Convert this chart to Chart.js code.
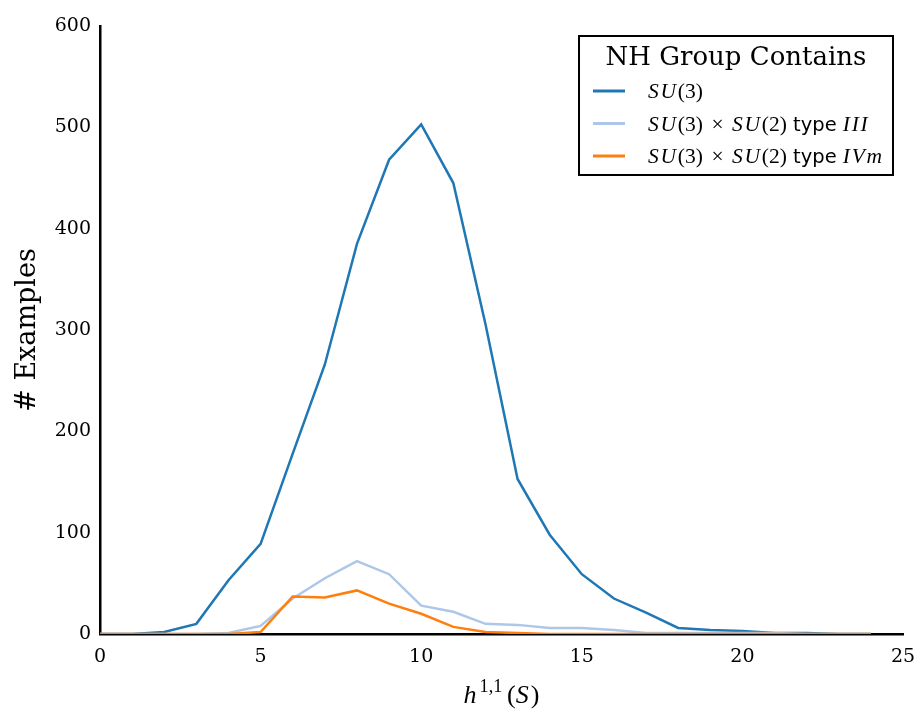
<!DOCTYPE html>
<html>
<head>
<meta charset="utf-8">
<script src="https://cdn.jsdelivr.net/npm/chart.js@4"></script>
<style>
  html, body { margin: 0; padding: 0; background: #fff; }
  canvas { display: block; }
</style>
</head>
<body>
<canvas id="chart" width="921" height="709"></canvas>
<script>
// values
const hValues = [0, 1, 2, 3, 4, 5, 6, 7, 8, 9, 10, 11, 12, 13, 14, 15, 16, 17, 18, 19, 20, 21, 22, 23, 24];
const su3 = [0, 0, 2, 10, 53, 89, 178, 266, 385, 468, 503, 445, 306, 153, 98, 59, 35, 21, 6, 4, 3, 1, 1, 0, 0];
const typeIII = [0, 0, 0, 0, 1, 8, 35, 55, 72, 59, 28, 22, 10, 9, 6, 6, 4, 1, 1, 1, 1, 1, 0, 0, 0];
const typeIVm = [0, 0, 0, 0, 0, 2, 37, 36, 43, 30, 20, 7, 2, 1, 0, 0, 0, 0, 0, 0, 0, 0, 0, 0, 0];
const seriesLabels = ['$SU(3)$', '$SU(3) × SU(2)$ type $III$', '$SU(3) × SU(2)$ type $IVm$'];
const seriesColors = ['#1f77b4', '#aec7e8', '#ff7f0e'];
const legendTitle = 'NH Group Contains';
const xTitle = '$h^{1,1}(S)$';
const yTitle = '# Examples';

const points = ys => hValues.map((x, i) => ({ x, y: ys[i] }));

// a tiny subset of mathtext: letters italic, digits/signs upright, ^{..} superscript
const drawRich = (ctx, str, x, y, size, sansSize = size) => {
    const serif = '"Liberation Serif"';
    str.split('$').forEach((part, i) => {
        if (i % 2 === 0) {
            if (!part) return;
            ctx.font = `${sansSize}px "DejaVu Sans"`;
            ctx.fillText(part, x, y);
            x += ctx.measureText(part).width;
            return;
        }
        for (let k = 0; k < part.length; k++) {
            const ch = part[k];
            if (ch === ' ') { x += size * 0.4; continue; }
            if (ch === '^') {
                const end = part.indexOf('}', k);
                const sup = part.slice(k + 2, end);
                ctx.font = `${size * 0.7}px ${serif}`;
                ctx.fillText(sup, x + 1, y - size * 0.42);
                x += ctx.measureText(sup).width + size * 0.22;
                k = end;
                continue;
            }
            const italic = /[A-Za-z]/.test(ch);
            ctx.font = (italic ? 'italic ' : '') + `${size}px ${serif}`;
            ctx.fillText(ch, x, y);
            x += ctx.measureText(ch).width + (italic ? size * 0.08 : 0);
        }
    });
    return x;
};

const richWidth = (ctx, str, size) => {
    ctx.save();
    ctx.globalAlpha = 0;
    const w = drawRich(ctx, str, 0, 0, size);
    ctx.restore();
    return w;
};

const extras = {
    id: 'extras',
    afterDraw(chart) {
        const { ctx, chartArea: area } = chart;
        ctx.save();
        ctx.fillStyle = '#000';
        ctx.textAlign = 'left';
        ctx.textBaseline = 'alphabetic';

        // x axis title
        const xs = 26;
        const xw = richWidth(ctx, xTitle, xs);
        drawRich(ctx, xTitle, (area.left + area.right) / 2 - xw / 2, 703, xs);

        // y axis title
        ctx.save();
        ctx.translate(35, (area.top + area.bottom) / 2);
        ctx.rotate(-Math.PI / 2);
        ctx.textAlign = 'center';
        ctx.font = '27px "DejaVu Serif"';
        ctx.fillText(yTitle, 0, 0);
        ctx.restore();

        // legend box
        const bx = area.right - 324, by = area.top + 10, bw = 314, bh = 139;
        ctx.fillStyle = '#fff';
        ctx.fillRect(bx, by, bw, bh);
        ctx.strokeStyle = '#000';
        ctx.lineWidth = 2;
        ctx.strokeRect(bx, by, bw, bh);
        ctx.fillStyle = '#000';
        ctx.textAlign = 'center';
        ctx.font = '26px "DejaVu Serif"';
        ctx.fillText(legendTitle, bx + bw / 2, by + 29);
        ctx.textAlign = 'left';
        seriesLabels.forEach((label, i) => {
            const cy = by + 55 + i * 32.5;
            ctx.strokeStyle = seriesColors[i];
            ctx.lineWidth = 3;
            ctx.beginPath();
            ctx.moveTo(bx + 14, cy);
            ctx.lineTo(bx + 46, cy);
            ctx.stroke();
            drawRich(ctx, label, bx + 69, cy + 7, 21.5, 19.5);
        });
        ctx.restore();
    }
};

const tickFont = { family: 'DejaVu Serif', size: 19 };

new Chart(document.getElementById('chart'), {
    type: 'line',
    data: {
        datasets: [
            { data: points(su3), borderColor: seriesColors[0], order: 3 },
            { data: points(typeIII), borderColor: seriesColors[1], order: 2 },
            { data: points(typeIVm), borderColor: seriesColors[2], order: 1 }
        ].map(d => ({ ...d, borderWidth: 2.5, pointRadius: 0, tension: 0, fill: false }))
    },
    options: {
        responsive: false, animation: false, devicePixelRatio: 1,
        layout: { padding: { top: 26, right: 18, left: 0, bottom: 0 } },
        plugins: { legend: { display: false }, tooltip: { enabled: false } },
        scales: {
            x: {
                type: 'linear', min: 0, max: 25, z: 1,
                ticks: { stepSize: 5, color: '#000', font: tickFont, padding: 12, maxRotation: 0 },
                grid: { display: false, drawTicks: false },
                border: { color: '#000', width: 2.5 },
                afterFit: s => { s.height = 75; s.paddingLeft = 0; s.paddingRight = 0; }
            },
            y: {
                min: 0, max: 600, z: 1,
                ticks: { stepSize: 100, color: '#000', font: tickFont, padding: 9 },
                grid: { display: false, drawTicks: false },
                border: { color: '#000', width: 2.5 },
                afterFit: s => { s.width = 100; s.paddingTop = 0; s.paddingBottom = 0; }
            }
        }
    },
    plugins: [extras]
});
</script>
</body>
</html>
